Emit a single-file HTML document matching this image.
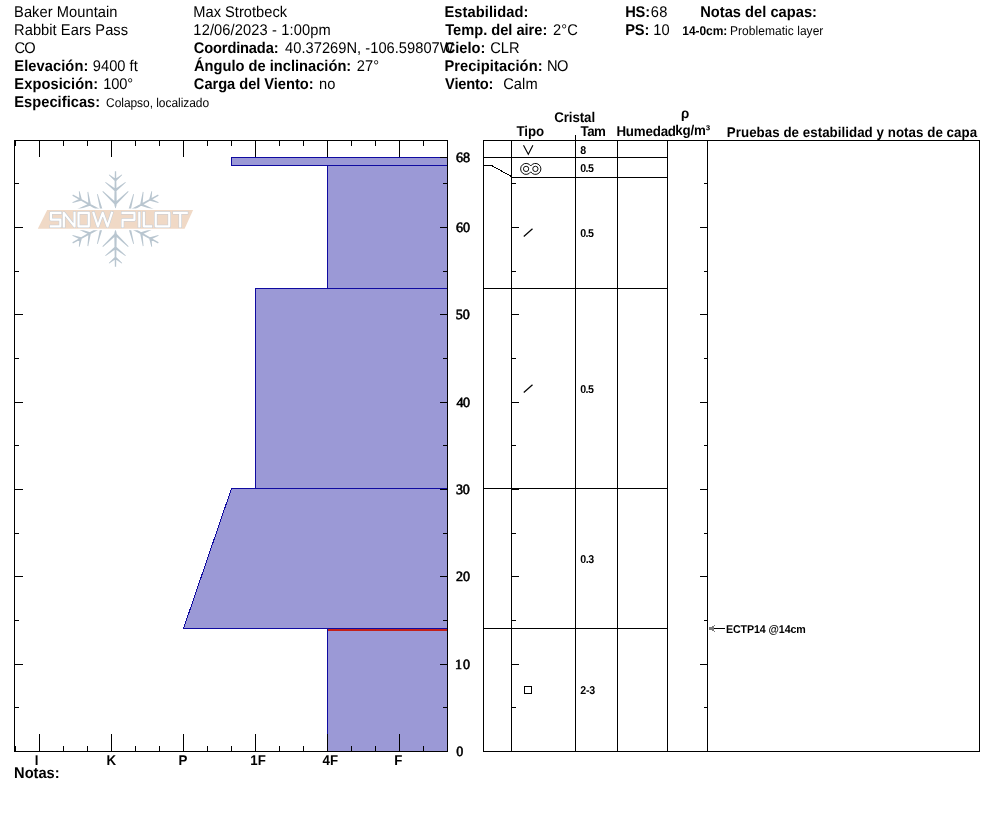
<!DOCTYPE html>
<html><head><meta charset="utf-8"><title>Snow Pilot</title>
<style>
html,body{margin:0;padding:0;background:#fff;}
body{width:994px;height:840px;overflow:hidden;font-family:"Liberation Sans",sans-serif;}
svg{display:block;font-family:"Liberation Sans",sans-serif;will-change:transform;}
svg text{text-rendering:geometricPrecision;}
svg rect{shape-rendering:crispEdges;}
</style></head><body>
<svg width="994" height="840" viewBox="0 0 994 840">
<rect x="0" y="0" width="994" height="840" fill="#fff"/>
<g id="logo">
<defs><clipPath id="flk"><rect x="60" y="160" width="112" height="48.4"/><rect x="60" y="230.2" width="112" height="48"/></clipPath></defs>
<path d="M115.70,208.60 L116.75,204.50 L114.25,204.50 L115.30,208.60ZM116.75,204.50 L116.15,171.20 L114.85,171.20 L114.25,204.50ZM116.37,204.60 L128.58,191.69 L128.02,191.11 L114.63,202.80ZM116.37,202.80 L102.98,191.11 L102.42,191.69 L114.63,204.60ZM116.24,191.15 L125.85,182.62 L125.35,181.98 L114.76,189.25ZM116.24,189.25 L105.65,181.98 L105.15,182.62 L114.76,191.15ZM116.23,180.99 L122.25,175.11 L121.75,174.49 L114.77,179.21ZM116.23,179.21 L109.25,174.49 L108.75,175.11 L114.77,180.99ZM124.92,213.97 L129.11,212.84 L127.89,210.66 L124.72,213.63ZM129.11,212.84 L158.66,195.67 L158.03,194.53 L127.89,210.66ZM128.88,212.55 L146.76,216.67 L146.97,215.90 L129.55,210.15ZM130.43,211.66 L134.00,194.21 L133.23,194.02 L128.00,211.04ZM140.88,205.72 L153.48,209.77 L153.77,209.02 L141.75,203.48ZM142.50,204.77 L143.56,191.96 L142.77,191.85 L140.13,204.43ZM149.97,200.63 L158.34,202.90 L158.62,202.15 L150.76,198.47ZM151.50,199.74 L152.15,191.34 L151.36,191.20 L149.23,199.36ZM124.72,224.37 L127.89,227.34 L129.11,225.16 L124.92,224.03ZM127.89,227.34 L158.03,243.47 L158.66,242.33 L129.11,225.16ZM128.00,226.96 L133.23,243.98 L134.00,243.79 L130.43,226.34ZM129.55,227.85 L146.97,222.10 L146.76,221.33 L128.88,225.45ZM140.13,233.57 L142.77,246.15 L143.56,246.04 L142.50,233.23ZM141.75,234.52 L153.77,228.98 L153.48,228.23 L140.88,232.28ZM149.23,238.64 L151.36,246.80 L152.15,246.66 L151.50,238.26ZM150.76,239.53 L158.62,235.85 L158.34,235.10 L149.97,237.37ZM115.30,229.40 L114.25,233.50 L116.75,233.50 L115.70,229.40ZM114.25,233.50 L114.85,266.80 L116.15,266.80 L116.75,233.50ZM114.63,233.40 L102.42,246.31 L102.98,246.89 L116.37,235.20ZM114.63,235.20 L128.02,246.89 L128.58,246.31 L116.37,233.40ZM114.76,246.85 L105.15,255.38 L105.65,256.02 L116.24,248.75ZM114.76,248.75 L125.35,256.02 L125.85,255.38 L116.24,246.85ZM114.77,257.01 L108.75,262.89 L109.25,263.51 L116.23,258.79ZM114.77,258.79 L121.75,263.51 L122.25,262.89 L116.23,257.01ZM106.08,224.03 L101.89,225.16 L103.11,227.34 L106.28,224.37ZM101.89,225.16 L72.34,242.33 L72.97,243.47 L103.11,227.34ZM102.12,225.45 L84.24,221.33 L84.03,222.10 L101.45,227.85ZM100.57,226.34 L97.00,243.79 L97.77,243.98 L103.00,226.96ZM90.12,232.28 L77.52,228.23 L77.23,228.98 L89.25,234.52ZM88.50,233.23 L87.44,246.04 L88.23,246.15 L90.87,233.57ZM81.03,237.37 L72.66,235.10 L72.38,235.85 L80.24,239.53ZM79.50,238.26 L78.85,246.66 L79.64,246.80 L81.77,238.64ZM106.28,213.63 L103.11,210.66 L101.89,212.84 L106.08,213.97ZM103.11,210.66 L72.97,194.53 L72.34,195.67 L101.89,212.84ZM103.00,211.04 L97.77,194.02 L97.00,194.21 L100.57,211.66ZM101.45,210.15 L84.03,215.90 L84.24,216.67 L102.12,212.55ZM90.87,204.43 L88.23,191.85 L87.44,191.96 L88.50,204.77ZM89.25,203.48 L77.23,209.02 L77.52,209.77 L90.12,205.72ZM81.77,199.36 L79.64,191.20 L78.85,191.34 L79.50,199.74ZM80.24,198.47 L72.38,202.15 L72.66,202.90 L81.03,200.63Z" fill="#b9c6d0" clip-path="url(#flk)"/>
<polygon points="47.2,209.9 193.1,209.9 184.6,228.8 37.8,228.8" fill="#f0d9c6"/>
<path d="M60.35,212.85 H50.95 V219.6 H60.35 V226.35 H50.95 M63.85,226.35 V212.85 L74.55,226.35 V212.85 M78.55,212.85 H88.8 V226.35 H78.55 Z M93.5,212.85 L97.9,226.35 L102.7,212.85 L107.5,226.35 L111.9,212.85 M122.6,212.85 H134.45 V219.79999999999998 H122.6 V226.35 M139.3,212.85 V226.35 M143.85,212.85 V226.35 H151.05 M155.75,212.85 H169.25 V226.35 H155.75 Z M174.15,212.85 H186.75 M180.2,212.85 V226.35" fill="none" stroke="#c4ccd5" stroke-width="3.2" stroke-linejoin="round" stroke-linecap="square"/>
<path d="M60.35,212.85 H50.95 V219.6 H60.35 V226.35 H50.95 M63.85,226.35 V212.85 L74.55,226.35 V212.85 M78.55,212.85 H88.8 V226.35 H78.55 Z M93.5,212.85 L97.9,226.35 L102.7,212.85 L107.5,226.35 L111.9,212.85 M122.6,212.85 H134.45 V219.79999999999998 H122.6 V226.35 M139.3,212.85 V226.35 M143.85,212.85 V226.35 H151.05 M155.75,212.85 H169.25 V226.35 H155.75 Z M174.15,212.85 H186.75 M180.2,212.85 V226.35" fill="none" stroke="#ffffff" stroke-width="2.2" stroke-linejoin="round" stroke-linecap="square"/>
</g>
<text x="14.08" y="15.85" font-size="14.67" transform="scale(1,1.06)" textLength="103.35" lengthAdjust="spacing">Baker Mountain</text>
<text x="14.08" y="32.83" font-size="14.67" transform="scale(1,1.06)" textLength="113.96" lengthAdjust="spacing">Rabbit Ears Pass</text>
<text x="14.4" y="49.81" font-size="14.67" transform="scale(1,1.06)" textLength="21.35" lengthAdjust="spacing">CO</text>
<text x="14.3" y="66.79" font-size="14.67" transform="scale(1,1.06)" font-weight="bold" textLength="73.99" lengthAdjust="spacing">Elevación:</text>
<text x="92.76" y="66.79" font-size="14.67" transform="scale(1,1.06)" textLength="45.03" lengthAdjust="spacing">9400 ft</text>
<text x="14.3" y="83.77" font-size="14.67" transform="scale(1,1.06)" font-weight="bold" textLength="83.9" lengthAdjust="spacing">Exposición:</text>
<text x="103.37" y="83.77" font-size="14.67" transform="scale(1,1.06)" textLength="29.81" lengthAdjust="spacing">100°</text>
<text x="14.3" y="100.75" font-size="14.67" transform="scale(1,1.06)" font-weight="bold" textLength="85.85" lengthAdjust="spacing">Especificas:</text>
<text x="106.04" y="100.75" font-size="12" transform="scale(1,1.06)" textLength="103.07" lengthAdjust="spacing">Colapso, localizado</text>
<text x="193.28" y="15.85" font-size="14.67" transform="scale(1,1.06)" textLength="93.78" lengthAdjust="spacing">Max Strotbeck</text>
<text x="193.37" y="32.83" font-size="14.67" transform="scale(1,1.06)" textLength="137.26" lengthAdjust="spacing">12/06/2023 - 1:00pm</text>
<text x="193.84" y="49.81" font-size="14.67" transform="scale(1,1.06)" font-weight="bold" textLength="84.69" lengthAdjust="spacing">Coordinada:</text>
<text x="285.08" y="49.81" font-size="14.67" transform="scale(1,1.06)" textLength="168.52" lengthAdjust="spacing">40.37269N, -106.59807W</text>
<text x="193.95" y="66.79" font-size="14.67" transform="scale(1,1.06)" font-weight="bold" textLength="157.31" lengthAdjust="spacing">Ángulo de inclinación:</text>
<text x="356.76" y="66.79" font-size="14.67" transform="scale(1,1.06)" textLength="22.29" lengthAdjust="spacing">27°</text>
<text x="193.84" y="83.77" font-size="14.67" transform="scale(1,1.06)" font-weight="bold" textLength="119.7" lengthAdjust="spacing">Carga del Viento:</text>
<text x="318.98" y="83.77" font-size="14.67" transform="scale(1,1.06)" textLength="16.31" lengthAdjust="spacing">no</text>
<text x="444.4" y="15.85" font-size="14.67" transform="scale(1,1.06)" font-weight="bold" textLength="84.08" lengthAdjust="spacing">Estabilidad:</text>
<text x="445.21" y="32.83" font-size="14.67" transform="scale(1,1.06)" font-weight="bold" textLength="102.11" lengthAdjust="spacing">Temp. del aire:</text>
<text x="553.06" y="32.83" font-size="14.67" transform="scale(1,1.06)" textLength="24.69" lengthAdjust="spacing">2°C</text>
<text x="444.74" y="49.81" font-size="14.67" transform="scale(1,1.06)" font-weight="bold" textLength="40.6" lengthAdjust="spacing">Cielo:</text>
<text x="490.2" y="49.81" font-size="14.67" transform="scale(1,1.06)" textLength="29.4" lengthAdjust="spacing">CLR</text>
<text x="444.4" y="66.79" font-size="14.67" transform="scale(1,1.06)" font-weight="bold" textLength="98.2" lengthAdjust="spacing">Precipitación:</text>
<text x="546.98" y="66.79" font-size="14.67" transform="scale(1,1.06)" textLength="21.5" lengthAdjust="spacing">NO</text>
<text x="445.1" y="83.77" font-size="14.67" transform="scale(1,1.06)" font-weight="bold" textLength="48.18" lengthAdjust="spacing">Viento:</text>
<text x="503.2" y="83.77" font-size="14.67" transform="scale(1,1.06)" textLength="34.47" lengthAdjust="spacing">Calm</text>
<text x="625.2" y="15.85" font-size="14.67" transform="scale(1,1.06)" font-weight="bold" textLength="24.89" lengthAdjust="spacing">HS:</text>
<text x="650.81" y="15.85" font-size="14.67" transform="scale(1,1.06)" textLength="16.69" lengthAdjust="spacing">68</text>
<text x="625.2" y="32.83" font-size="14.67" transform="scale(1,1.06)" font-weight="bold" textLength="24.12" lengthAdjust="spacing">PS:</text>
<text x="653.17" y="32.83" font-size="14.67" transform="scale(1,1.06)" textLength="16.47" lengthAdjust="spacing">10</text>
<text x="700.2" y="15.85" font-size="14.67" transform="scale(1,1.06)" font-weight="bold" textLength="116.8" lengthAdjust="spacing">Notas del capas:</text>
<text x="682.35" y="32.83" font-size="12" transform="scale(1,1.06)" font-weight="bold" textLength="44.89" lengthAdjust="spacing">14-0cm:</text>
<text x="729.9" y="32.83" font-size="12" transform="scale(1,1.06)" textLength="93.47" lengthAdjust="spacing">Problematic layer</text>
<polygon points="231.5,157.5 447.5,157.5 447.5,165.5 231.5,165.5" fill="#9b99d6" stroke="#0f0aa0" stroke-width="1" shape-rendering="crispEdges"/>
<polygon points="327.5,165.5 447.5,165.5 447.5,288.5 327.5,288.5" fill="#9b99d6" stroke="#0f0aa0" stroke-width="1" shape-rendering="crispEdges"/>
<polygon points="255.5,288.5 447.5,288.5 447.5,488.5 255.5,488.5" fill="#9b99d6" stroke="#0f0aa0" stroke-width="1" shape-rendering="crispEdges"/>
<polygon points="231.5,488.5 447.5,488.5 447.5,628.5 183.5,628.5" fill="#9b99d6" stroke="#0f0aa0" stroke-width="1" shape-rendering="crispEdges"/>
<polygon points="327.5,628.5 447.5,628.5 447.5,751.5 327.5,751.5" fill="#9b99d6" stroke="#0f0aa0" stroke-width="1" shape-rendering="crispEdges"/>
<rect x="328" y="629" width="120" height="2" fill="#c3201a"/>
<rect x="14" y="140" width="434" height="1" fill="#000"/>
<rect x="14" y="751" width="434" height="1" fill="#000"/>
<rect x="14" y="140" width="1" height="612" fill="#000"/>
<rect x="447" y="140" width="1" height="612" fill="#000"/>
<rect x="15" y="140" width="1" height="6" fill="#000"/>
<rect x="15" y="746" width="1" height="6" fill="#000"/>
<rect x="39" y="140" width="1" height="17" fill="#000"/>
<rect x="39" y="734" width="1" height="18" fill="#000"/>
<rect x="63" y="140" width="1" height="6" fill="#000"/>
<rect x="63" y="746" width="1" height="6" fill="#000"/>
<rect x="87" y="140" width="1" height="6" fill="#000"/>
<rect x="87" y="746" width="1" height="6" fill="#000"/>
<rect x="111" y="140" width="1" height="17" fill="#000"/>
<rect x="111" y="734" width="1" height="18" fill="#000"/>
<rect x="135" y="140" width="1" height="6" fill="#000"/>
<rect x="135" y="746" width="1" height="6" fill="#000"/>
<rect x="159" y="140" width="1" height="6" fill="#000"/>
<rect x="159" y="746" width="1" height="6" fill="#000"/>
<rect x="183" y="140" width="1" height="17" fill="#000"/>
<rect x="183" y="734" width="1" height="18" fill="#000"/>
<rect x="207" y="140" width="1" height="6" fill="#000"/>
<rect x="207" y="746" width="1" height="6" fill="#000"/>
<rect x="231" y="140" width="1" height="6" fill="#000"/>
<rect x="231" y="746" width="1" height="6" fill="#000"/>
<rect x="255" y="140" width="1" height="17" fill="#000"/>
<rect x="255" y="734" width="1" height="18" fill="#000"/>
<rect x="279" y="140" width="1" height="6" fill="#000"/>
<rect x="279" y="746" width="1" height="6" fill="#000"/>
<rect x="303" y="140" width="1" height="6" fill="#000"/>
<rect x="303" y="746" width="1" height="6" fill="#000"/>
<rect x="327" y="140" width="1" height="17" fill="#000"/>
<rect x="327" y="734" width="1" height="18" fill="#000"/>
<rect x="351" y="140" width="1" height="6" fill="#000"/>
<rect x="351" y="746" width="1" height="6" fill="#000"/>
<rect x="375" y="140" width="1" height="6" fill="#000"/>
<rect x="375" y="746" width="1" height="6" fill="#000"/>
<rect x="399" y="140" width="1" height="17" fill="#000"/>
<rect x="399" y="734" width="1" height="18" fill="#000"/>
<rect x="423" y="140" width="1" height="6" fill="#000"/>
<rect x="423" y="746" width="1" height="6" fill="#000"/>
<rect x="447" y="140" width="1" height="6" fill="#000"/>
<rect x="447" y="746" width="1" height="6" fill="#000"/>
<rect x="14" y="751" width="9" height="1" fill="#000"/>
<rect x="440" y="751" width="8" height="1" fill="#000"/>
<rect x="14" y="707" width="5" height="1" fill="#000"/>
<rect x="443" y="707" width="5" height="1" fill="#000"/>
<rect x="14" y="664" width="9" height="1" fill="#000"/>
<rect x="440" y="664" width="8" height="1" fill="#000"/>
<rect x="14" y="620" width="5" height="1" fill="#000"/>
<rect x="443" y="620" width="5" height="1" fill="#000"/>
<rect x="14" y="576" width="9" height="1" fill="#000"/>
<rect x="440" y="576" width="8" height="1" fill="#000"/>
<rect x="14" y="533" width="5" height="1" fill="#000"/>
<rect x="443" y="533" width="5" height="1" fill="#000"/>
<rect x="14" y="489" width="9" height="1" fill="#000"/>
<rect x="440" y="489" width="8" height="1" fill="#000"/>
<rect x="14" y="445" width="5" height="1" fill="#000"/>
<rect x="443" y="445" width="5" height="1" fill="#000"/>
<rect x="14" y="402" width="9" height="1" fill="#000"/>
<rect x="440" y="402" width="8" height="1" fill="#000"/>
<rect x="14" y="358" width="5" height="1" fill="#000"/>
<rect x="443" y="358" width="5" height="1" fill="#000"/>
<rect x="14" y="314" width="9" height="1" fill="#000"/>
<rect x="440" y="314" width="8" height="1" fill="#000"/>
<rect x="14" y="271" width="5" height="1" fill="#000"/>
<rect x="443" y="271" width="5" height="1" fill="#000"/>
<rect x="14" y="227" width="9" height="1" fill="#000"/>
<rect x="440" y="227" width="8" height="1" fill="#000"/>
<rect x="14" y="183" width="5" height="1" fill="#000"/>
<rect x="443" y="183" width="5" height="1" fill="#000"/>
<rect x="440" y="157" width="8" height="1" fill="#000"/>
<text x="456.13" y="755.75" font-size="14.1" font-family="&quot;Liberation Serif&quot;, serif" stroke="#000" stroke-width="0.6">0</text>
<text x="454.95" y="668.75" font-size="14.1" font-family="&quot;Liberation Serif&quot;, serif" textLength="15.03" lengthAdjust="spacing" stroke="#000" stroke-width="0.6">10</text>
<text x="456.07" y="580.75" font-size="14.1" font-family="&quot;Liberation Serif&quot;, serif" textLength="13.9" lengthAdjust="spacing" stroke="#000" stroke-width="0.6">20</text>
<text x="456.0" y="493.75" font-size="14.1" font-family="&quot;Liberation Serif&quot;, serif" textLength="13.88" lengthAdjust="spacing" stroke="#000" stroke-width="0.6">30</text>
<text x="456.4" y="406.75" font-size="14.1" font-family="&quot;Liberation Serif&quot;, serif" textLength="13.66" lengthAdjust="spacing" stroke="#000" stroke-width="0.6">40</text>
<text x="455.86" y="318.75" font-size="14.1" font-family="&quot;Liberation Serif&quot;, serif" textLength="14.06" lengthAdjust="spacing" stroke="#000" stroke-width="0.6">50</text>
<text x="456.06" y="231.75" font-size="14.1" font-family="&quot;Liberation Serif&quot;, serif" textLength="13.93" lengthAdjust="spacing" stroke="#000" stroke-width="0.6">60</text>
<text x="456.06" y="161.75" font-size="14.1" font-family="&quot;Liberation Serif&quot;, serif" textLength="13.94" lengthAdjust="spacing" stroke="#000" stroke-width="0.6">68</text>
<text x="34.81" y="721.32" font-size="13.33" transform="scale(1,1.06)" font-weight="bold">I</text>
<text x="106.51" y="721.32" font-size="13.33" transform="scale(1,1.06)" font-weight="bold">K</text>
<text x="178.61" y="721.32" font-size="13.33" transform="scale(1,1.06)" font-weight="bold">P</text>
<text x="250.26" y="721.32" font-size="13.33" transform="scale(1,1.06)" font-weight="bold">1F</text>
<text x="322.58" y="721.32" font-size="13.33" transform="scale(1,1.06)" font-weight="bold">4F</text>
<text x="394.31" y="721.32" font-size="13.33" transform="scale(1,1.06)" font-weight="bold">F</text>
<text x="14.1" y="734.25" font-size="14.67" transform="scale(1,1.06)" font-weight="bold" textLength="45.47" lengthAdjust="spacing">Notas:</text>
<rect x="483" y="140" width="497" height="1" fill="#000"/>
<rect x="483" y="751" width="497" height="1" fill="#000"/>
<rect x="483" y="140" width="1" height="612" fill="#000"/>
<rect x="979" y="140" width="1" height="612" fill="#000"/>
<rect x="511" y="140" width="1" height="612" fill="#000"/>
<rect x="617" y="140" width="1" height="612" fill="#000"/>
<rect x="667" y="140" width="1" height="612" fill="#000"/>
<rect x="707" y="140" width="1" height="612" fill="#000"/>
<rect x="575" y="135" width="1" height="617" fill="#000"/>
<rect x="483" y="157" width="185" height="1" fill="#000"/>
<rect x="511" y="177" width="157" height="1" fill="#000"/>
<rect x="483" y="288" width="185" height="1" fill="#000"/>
<rect x="483" y="488" width="185" height="1" fill="#000"/>
<rect x="483" y="628" width="185" height="1" fill="#000"/>
<polyline points="483.5,165.5 491.5,165.5 511.5,176.5" fill="none" stroke="#000" stroke-width="1" shape-rendering="crispEdges"/>
<rect x="511" y="707" width="5" height="1" fill="#000"/>
<rect x="704" y="707" width="4" height="1" fill="#000"/>
<rect x="511" y="664" width="8" height="1" fill="#000"/>
<rect x="700" y="664" width="8" height="1" fill="#000"/>
<rect x="511" y="620" width="5" height="1" fill="#000"/>
<rect x="704" y="620" width="4" height="1" fill="#000"/>
<rect x="511" y="576" width="8" height="1" fill="#000"/>
<rect x="700" y="576" width="8" height="1" fill="#000"/>
<rect x="511" y="533" width="5" height="1" fill="#000"/>
<rect x="704" y="533" width="4" height="1" fill="#000"/>
<rect x="511" y="489" width="8" height="1" fill="#000"/>
<rect x="700" y="489" width="8" height="1" fill="#000"/>
<rect x="511" y="445" width="5" height="1" fill="#000"/>
<rect x="704" y="445" width="4" height="1" fill="#000"/>
<rect x="511" y="402" width="8" height="1" fill="#000"/>
<rect x="700" y="402" width="8" height="1" fill="#000"/>
<rect x="511" y="358" width="5" height="1" fill="#000"/>
<rect x="704" y="358" width="4" height="1" fill="#000"/>
<rect x="511" y="314" width="8" height="1" fill="#000"/>
<rect x="700" y="314" width="8" height="1" fill="#000"/>
<rect x="511" y="271" width="5" height="1" fill="#000"/>
<rect x="704" y="271" width="4" height="1" fill="#000"/>
<rect x="511" y="227" width="8" height="1" fill="#000"/>
<rect x="700" y="227" width="8" height="1" fill="#000"/>
<rect x="511" y="183" width="5" height="1" fill="#000"/>
<rect x="704" y="183" width="4" height="1" fill="#000"/>
<text x="554.21" y="114.72" font-size="13.33" transform="scale(1,1.06)" font-weight="bold" textLength="40.87" lengthAdjust="spacing">Cristal</text>
<text x="516.42" y="128.77" font-size="13.33" transform="scale(1,1.06)" font-weight="bold" textLength="27.8" lengthAdjust="spacing">Tipo</text>
<text x="580.62" y="128.77" font-size="13.33" transform="scale(1,1.06)" font-weight="bold" textLength="25.18" lengthAdjust="spacing">Tam</text>
<text x="616.41" y="128.77" font-size="13.33" transform="scale(1,1.06)" font-weight="bold" textLength="59.61" lengthAdjust="spacing">Humedad</text>
<text x="681.12" y="111.7" font-size="13.33" transform="scale(1,1.06)" font-weight="bold" textLength="6.81" lengthAdjust="spacing">ρ</text>
<text x="675.36" y="127.17" font-size="13.33" transform="scale(1,1.06)" font-weight="bold" textLength="34.83" lengthAdjust="spacing">kg/m³</text>
<text x="726.81" y="128.96" font-size="13.33" transform="scale(1,1.06)" font-weight="bold" textLength="250.26" lengthAdjust="spacing">Pruebas de estabilidad y notas de capa</text>
<text x="580.16" y="144.91" font-size="10.67" transform="scale(1,1.06)" font-weight="bold" textLength="6.06" lengthAdjust="spacing">8</text>
<text x="580.14" y="161.98" font-size="10.67" transform="scale(1,1.06)" font-weight="bold" textLength="13.83" lengthAdjust="spacing">0.5</text>
<text x="580.14" y="223.3" font-size="10.67" transform="scale(1,1.06)" font-weight="bold" textLength="13.83" lengthAdjust="spacing">0.5</text>
<text x="580.14" y="370.47" font-size="10.67" transform="scale(1,1.06)" font-weight="bold" textLength="13.83" lengthAdjust="spacing">0.5</text>
<text x="580.14" y="530.85" font-size="10.67" transform="scale(1,1.06)" font-weight="bold" textLength="14.16" lengthAdjust="spacing">0.3</text>
<text x="580.21" y="654.43" font-size="10.67" transform="scale(1,1.06)" font-weight="bold" textLength="15.03" lengthAdjust="spacing">2-3</text>
<polyline points="523.5,145.2 528.3,154.2 532.9,145.2" fill="none" stroke="#000" stroke-width="1.1"/>
<line x1="523.8" y1="236.5" x2="532.5" y2="228.7" stroke="#000" stroke-width="1.25"/>
<line x1="523.8" y1="392.5" x2="532.5" y2="384.7" stroke="#000" stroke-width="1.25"/>
<rect x="524.5" y="686.5" width="7" height="7" fill="none" stroke="#000" stroke-width="1"/>
<g fill="none" stroke="#000" stroke-width="0.95"><circle cx="526.1" cy="168.9" r="2.65"/><circle cx="535.4" cy="168.9" r="2.65"/><path d="M530.75,165.96 A5.5,5.5 0 1 0 530.75,171.84 A5.5,5.5 0 1 0 530.75,165.96 Z"/></g>
<rect x="714" y="628" width="11" height="1" fill="#000"/>
<rect x="709" y="627" width="4" height="3" fill="#7b7b7b"/><rect x="712" y="626" width="2" height="5" fill="#7b7b7b"/><rect x="713.5" y="625" width="1.5" height="1.4" fill="#7b7b7b"/><rect x="713.5" y="630.6" width="1.5" height="1.4" fill="#7b7b7b"/>
<text x="725.88" y="597.08" font-size="10.67" transform="scale(1,1.06)" font-weight="bold" textLength="79.92" lengthAdjust="spacing">ECTP14 @14cm</text>
</svg>
</body></html>
